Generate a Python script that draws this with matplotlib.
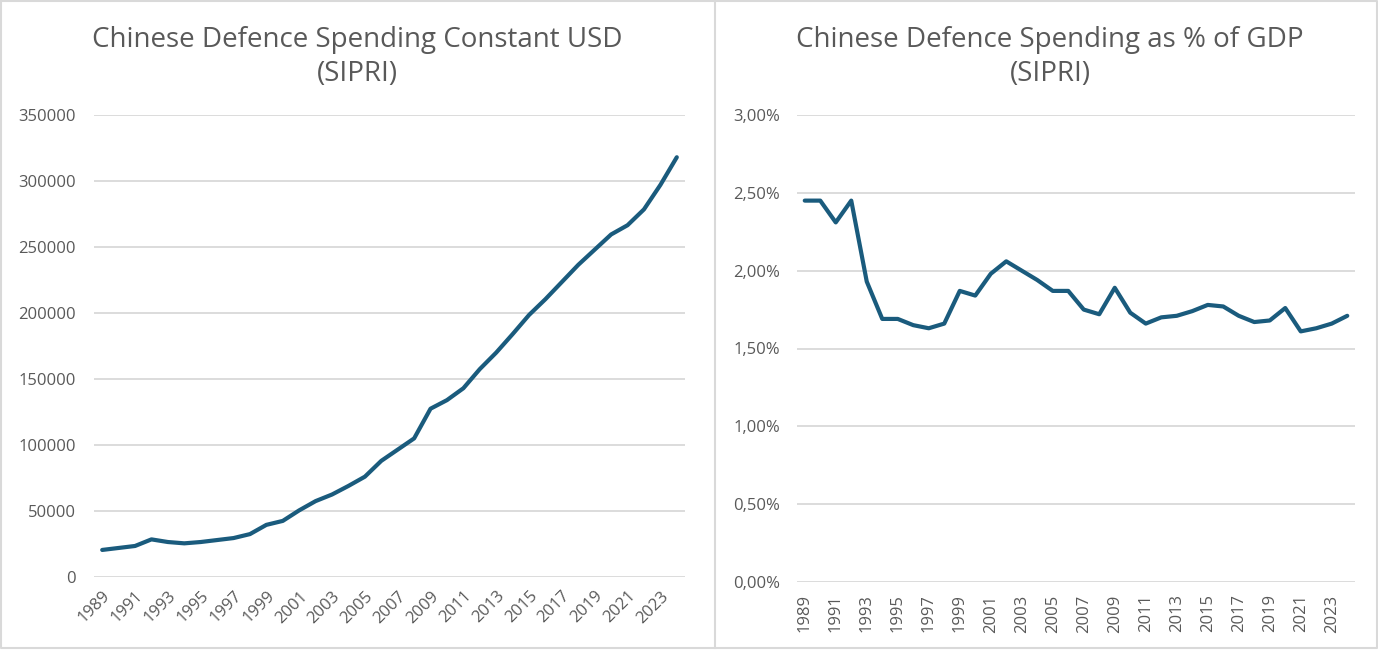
import matplotlib
matplotlib.use("Agg")
import matplotlib.pyplot as plt
from matplotlib.ticker import FuncFormatter, MultipleLocator
from matplotlib.lines import Line2D

years = list(range(1989, 2025))
spending_usd = [20500, 22000, 23500, 28500, 26500, 25500, 26500, 28000, 29500, 32500,
                39500, 42500, 50500, 57500, 62500, 69000, 76000, 88000, 96500, 105000,
                127500, 134000, 143000, 157500, 170000, 184000, 198500, 210500, 223500,
                236500, 248000, 259500, 266500, 278500, 297000, 318000]
spending_gdp = [2.45, 2.45, 2.31, 2.45, 1.93, 1.69, 1.69, 1.65, 1.63, 1.66,
                1.87, 1.84, 1.98, 2.06, 2.00, 1.94, 1.87, 1.87, 1.75, 1.72,
                1.89, 1.73, 1.66, 1.70, 1.71, 1.74, 1.78, 1.77, 1.71, 1.67,
                1.68, 1.76, 1.61, 1.63, 1.66, 1.71]
title_left = "Chinese Defence Spending Constant USD\n(SIPRI)"
title_right = "Chinese Defence Spending as % of GDP\n(SIPRI)"

W, H = 1378, 650
LINE = '#1a5b7d'
GRID = '#d9d9d9'
TXT = '#595959'
plt.rcParams['font.family'] = ['Open Sans', 'DejaVu Sans']

fig = plt.figure(figsize=(W / 100, H / 100), dpi=100)

def ax_rect(x0, x1, ytop, ybot):
    return [x0 / W, (H - ybot) / H, (x1 - x0) / W, (ybot - ytop) / H]

ax1 = fig.add_axes(ax_rect(94, 685, 115, 577))
ax2 = fig.add_axes(ax_rect(797, 1355, 115, 582))

idx = list(range(len(years)))
for ax in (ax1, ax2):
    for s in ax.spines.values():
        s.set_visible(False)
    ax.grid(axis='y', color=GRID, linewidth=1.3)
    ax.set_axisbelow(True)
    ax.set_xlim(-0.5, len(years) - 0.5)
    ax.tick_params(axis='both', length=0, colors=TXT, labelsize=12)
    ax.set_xticks(idx[::2])
    ax.set_xticklabels([str(y) for y in years[::2]])

ax1.plot(idx, spending_usd, color=LINE, linewidth=3.0, solid_joinstyle='round', solid_capstyle='round')
ax1.set_ylim(0, 350000)
ax1.yaxis.set_major_locator(MultipleLocator(50000))
ax1.tick_params(axis='y', pad=13)
for lab in ax1.get_xticklabels():
    lab.set_rotation(45)
    lab.set_ha('right')
    lab.set_va('top')
    lab.set_rotation_mode('anchor')
ax1.tick_params(axis='x', pad=8)

ax2.plot(idx, spending_gdp, color=LINE, linewidth=3.0, solid_joinstyle='round', solid_capstyle='round')
ax2.set_ylim(0, 3.0)
ax2.yaxis.set_major_locator(MultipleLocator(0.5))
ax2.yaxis.set_major_formatter(FuncFormatter(lambda v, p: f"{v:.2f}".replace('.', ',') + '%'))
ax2.tick_params(axis='y', pad=12)
for lab in ax2.get_xticklabels():
    lab.set_rotation(90)
ax2.tick_params(axis='x', pad=9)

fig.text(357 / W, 1 - 57 / H, title_left, ha='center', va='center', fontsize=20,
         color=TXT, linespacing=1.32)
fig.text(1050 / W, 1 - 57 / H, title_right, ha='center', va='center', fontsize=20,
         color=TXT, linespacing=1.32)

# panel borders
def fline(xs, ys):
    fig.add_artist(Line2D([x / W for x in xs], [1 - y / H for y in ys],
                          color=GRID, linewidth=1.5, transform=fig.transFigure))
fline([1, 1377, 1377, 1, 1], [1, 1, 648, 648, 1])
fline([715, 715], [1, 648])

fig.savefig('out.png', dpi=100, facecolor='white')
